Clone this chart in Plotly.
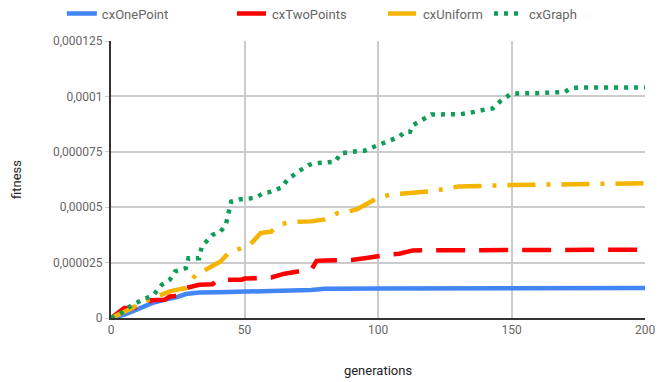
import plotly.graph_objects as go

# ---- data (values in units of 1e-6) ----
one_x = [0, 2, 5, 8, 12, 16, 20, 25, 28, 33, 40, 50, 55, 60, 75, 80, 100, 120, 150, 200]
one_y = [0, 0.5, 1.5, 3, 5.2, 7, 8.2, 9.5, 10.8, 11.5, 11.6, 11.7, 12, 12.2, 12.6, 13.2, 13.3, 13.4, 13.5, 13.5]

two_x = [0, 3, 5, 8, 10, 13, 15, 20, 22, 25, 28, 33, 38, 40, 49, 50, 55, 60, 65, 68, 70, 75, 77, 80,
         90, 95, 100, 104, 108, 113, 130, 150, 200]
two_y = [0, 2.5, 4.5, 4.6, 4.8, 5.5, 8, 8.2, 9.7, 10, 13.5, 15, 15.2, 17.2, 17.3, 17.8, 18, 18.3, 20,
         20.8, 21, 21.8, 25.8, 26, 26.2, 27, 28, 28.6, 29, 30.5, 30.6, 30.7, 30.8]

uni_x = [0, 3, 6, 8, 11, 14, 18, 22, 25, 28, 30, 32, 35, 38, 41, 44, 49, 52, 56, 60, 63, 66, 70, 75,
         80, 85, 88, 92, 95, 98, 100, 105, 110, 113, 120, 125, 130, 150, 170, 180, 200]
uni_y = [0, 1.5, 3, 4.5, 6.8, 8.2, 10, 12, 12.8, 13.5, 16.5, 20, 21.5, 23.5, 25.5, 29.3, 31.7, 33,
         38.3, 39, 42, 43, 43.4, 43.6, 44.5, 47.4, 47.8, 49, 51, 53, 54.2, 55.8, 56, 56.5, 57.2, 58,
         59.3, 60, 60.3, 60.5, 60.8]

gra_x = [0, 3, 8, 13, 16, 19, 22, 24, 28, 29, 33, 34, 38, 41, 43, 45, 48, 54, 57, 60, 64, 66, 70, 74,
         76, 84, 86, 90, 95, 100, 103, 104, 108, 110, 112, 113, 120, 131, 132, 136, 141, 143, 146,
         150, 160, 170, 172, 175, 200]
gra_y = [0, 1.5, 6, 9, 10.5, 15, 17.2, 21, 22.5, 27, 27, 32.3, 37.5, 39, 42, 52.5, 53.5, 54.2, 56.3,
         57, 59, 62.3, 66, 69, 69.8, 70.5, 74.3, 75, 75.5, 78, 79.5, 80, 81.8, 84, 84, 87, 91.8, 92,
         92.3, 93, 94.3, 94.6, 98, 101.3, 101.5, 102, 103.6, 104, 104]

series_names = ["cxOnePoint", "cxTwoPoints", "cxUniform", "cxGraph"]
y_tickvals = [0, 0.000025, 0.00005, 0.000075, 0.0001, 0.000125]
y_ticktext = ["0", "0,000025", "0,00005", "0,000075", "0,0001", "0,000125"]
x_tickvals = [0, 50, 100, 150, 200]

scale = 1e-6
styles = [
    dict(color="#4285F4", width=4.5, dash="solid"),
    dict(color="#FF0000", width=4.5, dash="29px,14px"),
    dict(color="#F4B400", width=4.5, dash="28px,11px,4px,11px"),
    dict(color="#0F9D58", width=4.5, dash="4px,6px"),
]
data = [(one_x, one_y), (two_x, two_y), (uni_x, uni_y), (gra_x, gra_y)]
legend_ids = ["legend", "legend2", "legend3", "legend4"]
legend_x = [-0.092, 0.2266, 0.5094, 0.7079]

fig = go.Figure()
for name, (xs, ys), st, lid in zip(series_names, data, styles, legend_ids):
    fig.add_trace(go.Scatter(
        x=xs, y=[v * scale for v in ys], mode="lines", name=name, legend=lid,
        line=dict(color=st["color"], width=st["width"], dash=st["dash"]),
    ))

legend_common = dict(orientation="h", y=1.153, yanchor="top", xanchor="left",
                     font=dict(size=13, color="#666666"), itemwidth=30,
                     bgcolor="rgba(0,0,0,0)")
legends = {}
for lid, lx in zip(legend_ids, legend_x):
    legends[lid] = dict(x=lx, **legend_common)

# page body has an 8px default margin, so the figure is shifted by 8px
fig.update_layout(
    width=660, height=374,
    margin=dict(l=103, r=23, t=33, b=64, autoexpand=False),
    paper_bgcolor="white", plot_bgcolor="white",
    font=dict(family="Roboto", size=12, color="#666666"),
    showlegend=True,
    xaxis=dict(range=[0, 200], tickvals=x_tickvals, showgrid=True, gridcolor="#cccccc", gridwidth=1.5,
               showline=True, linecolor="#333333", linewidth=2, zeroline=False, ticks="",
               automargin=False,
               title=dict(text="generations", font=dict(size=13, color="#222222"), standoff=29)),
    yaxis=dict(range=[0, 0.000125], tickvals=y_tickvals, ticktext=y_ticktext, showgrid=True,
               gridcolor="#cccccc", gridwidth=1.5, showline=True, linecolor="#333333", linewidth=2,
               zeroline=False, ticks="outside", ticklen=4, tickcolor="#cccccc", automargin=False,
               title=dict(text="fitness", font=dict(size=13, color="#222222"), standoff=28)),
    **legends,
)

fig.write_html("out.html")
